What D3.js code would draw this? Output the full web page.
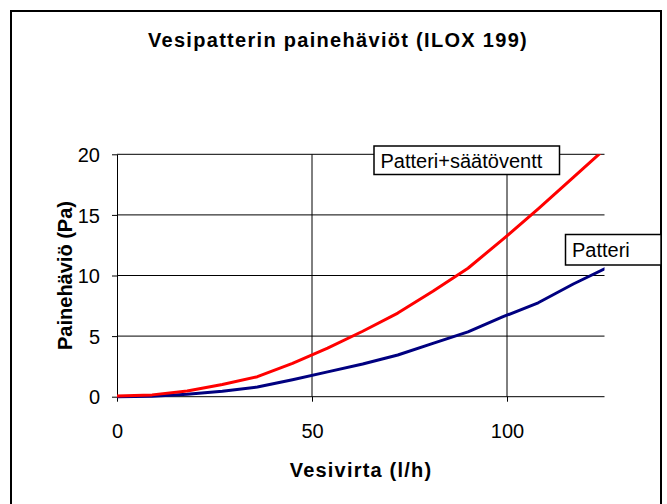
<!DOCTYPE html>
<html>
<head>
<meta charset="utf-8">
<script src="https://cdn.jsdelivr.net/npm/d3@7"></script>
<style>
  body { margin: 0; background: #fff; }
  svg { display: block; font-family: "Liberation Sans", Arial, sans-serif; }
</style>
</head>
<body>
<svg width="667" height="504"></svg>
<script>
'use strict';

// virtaama l/h
var flow = [0, 9, 18, 27, 36, 45, 54, 63, 72, 81, 90, 99, 108, 117, 126];
// painehäviö Pa
var patteri = [0, 0.03, 0.2, 0.45, 0.8, 1.4, 2.05, 2.7, 3.44, 4.4, 5.35, 6.6, 7.75, 9.3, 10.7];
var patteriVentt = [0.05, 0.15, 0.47, 1.0, 1.65, 2.75, 4.0, 5.4, 6.9, 8.7, 10.6, 13.0, 15.5, 18.1, 20.7];
var xTicks = [0, 50, 100];
var yTicks = [0, 5, 10, 15, 20];

var svg = d3.select('svg');

var plot = { left: 117, right: 604.5, top: 154.3, bottom: 396.7 };

var x = d3.scaleLinear().domain([0, 125]).range([plot.left, plot.right]);
var y = d3.scaleLinear().domain([0, 20]).range([plot.bottom, plot.top]);

// chart frame
svg.append('rect')
    .attr('x', 11).attr('y', 11)
    .attr('width', 650).attr('height', 500)
    .attr('fill', '#fff')
    .attr('stroke', '#000')
    .attr('stroke-width', 2);

svg.append('text')
    .attr('x', 338).attr('y', 47)
    .attr('text-anchor', 'middle')
    .attr('font-size', 20)
    .attr('font-weight', 'bold')
    .attr('letter-spacing', 1.3)
    .text('Vesipatterin painehäviöt (ILOX 199)');

// gridlines
svg.append('g').selectAll('line')
    .data(yTicks.filter(function(d) { return d > 0; }))
    .enter().append('line')
    .attr('x1', plot.left).attr('x2', plot.right)
    .attr('y1', function(d) { return y(d); })
    .attr('y2', function(d) { return y(d); })
    .attr('stroke', '#000').attr('stroke-width', 1);

svg.append('g').selectAll('line')
    .data(xTicks.filter(function(d) { return d > 0; }))
    .enter().append('line')
    .attr('x1', function(d) { return x(d); })
    .attr('x2', function(d) { return x(d); })
    .attr('y1', plot.top).attr('y2', plot.bottom)
    .attr('stroke', '#000').attr('stroke-width', 1);

var axisX = d3.axisBottom(x)
    .tickValues(xTicks)
    .tickSizeInner(5)
    .tickSizeOuter(0)
    .tickPadding(22);

var axisY = d3.axisLeft(y)
    .tickValues(yTicks)
    .tickSizeInner(5)
    .tickSizeOuter(0)
    .tickPadding(12);

var gx = svg.append('g')
    .attr('transform', 'translate(0,' + plot.bottom + ')')
    .call(axisX);
gx.select('.domain').attr('d', 'M' + plot.left + ',0H' + plot.right);

var gy = svg.append('g')
    .attr('transform', 'translate(' + plot.left + ',0)')
    .call(axisY);

[gx, gy].forEach(function(g) {
    g.selectAll('path, line').attr('stroke', '#000').attr('stroke-width', 1);
    g.selectAll('text')
        .attr('font-size', 20)
        .attr('font-family', '"Liberation Sans", Arial, sans-serif')
        .attr('fill', '#000');
});
gy.selectAll('text').attr('dy', '0.36em');

svg.append('text')
    .attr('x', 361).attr('y', 477)
    .attr('text-anchor', 'middle')
    .attr('font-size', 20)
    .attr('font-weight', 'bold')
    .attr('letter-spacing', 1.2)
    .text('Vesivirta (l/h)');

svg.append('text')
    .attr('transform', 'translate(72,' + y(10) + ') rotate(-90)')
    .attr('text-anchor', 'middle')
    .attr('font-size', 20)
    .attr('font-weight', 'bold')
    .text('Painehäviö (Pa)');

// series
svg.append('clipPath').attr('id', 'plotclip')
    .append('rect')
    .attr('x', plot.left - 2).attr('y', plot.top)
    .attr('width', plot.right - plot.left + 2)
    .attr('height', plot.bottom - plot.top + 3);

var line = d3.line()
    .x(function(d) { return x(d[0]); })
    .y(function(d) { return y(d[1]); });

var series = [
    { name: 'Patteri', values: patteri, color: '#000080' },
    { name: 'Patteri+säätöventt', values: patteriVentt, color: '#ff0000' }
];

svg.append('g').attr('clip-path', 'url(#plotclip)')
    .selectAll('path')
    .data(series)
    .enter().append('path')
    .attr('d', function(s) { return line(flow.map(function(f, i) { return [f, s.values[i]]; })); })
    .attr('fill', 'none')
    .attr('stroke', function(s) { return s.color; })
    .attr('stroke-width', 3)
    .attr('stroke-linejoin', 'round');

// data labels
var labels = [
    { text: 'Patteri+säätöventt', x: 374, y: 146, w: 185.5, h: 28.5 },
    { text: 'Patteri', x: 565.5, y: 234.5, w: 95.5, h: 30.5 }
];

var lg = svg.append('g').selectAll('g')
    .data(labels)
    .enter().append('g')
    .attr('transform', function(d) { return 'translate(' + d.x + ',' + d.y + ')'; });

lg.append('rect')
    .attr('width', function(d) { return d.w; })
    .attr('height', function(d) { return d.h; })
    .attr('fill', '#fff')
    .attr('stroke', '#000')
    .attr('stroke-width', 1.5);

lg.append('text')
    .attr('x', 6.5)
    .attr('y', function(d) { return d.h / 2 + 7.5; })
    .attr('font-size', 20)
    .text(function(d) { return d.text; });
</script>
</body>
</html>
